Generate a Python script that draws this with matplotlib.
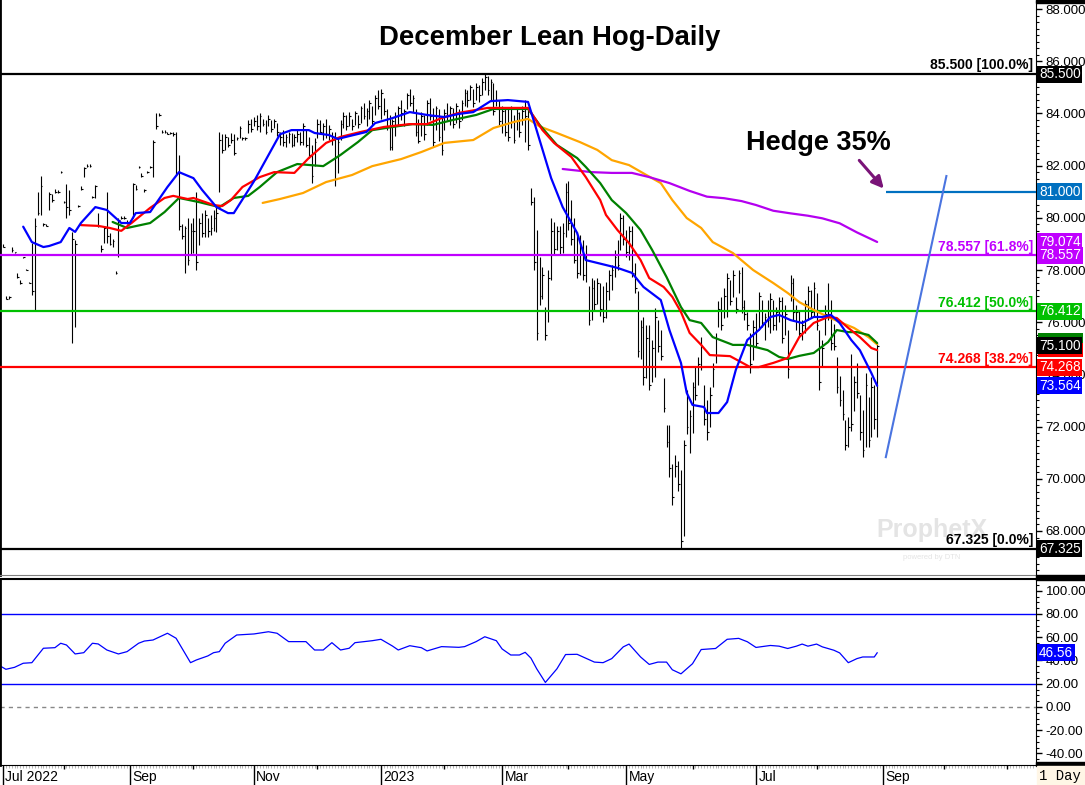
import numpy as np
import pandas as pd
import matplotlib
matplotlib.use("Agg")
import matplotlib.pyplot as plt
from matplotlib.patches import Rectangle
from matplotlib.ticker import MultipleLocator, FormatStrFormatter
from matplotlib.transforms import blended_transform_factory as blend

plt.rcParams['font.family'] = ['Liberation Sans', 'DejaVu Sans']

# ---- daily bars (Dec lean hog futures), trading days from 2022-07-01 ----
highs = [
    79.0, 77.0, 77.0, 78.9, 78.7, 77.9, 77.6, 78.5, 78.05, 77.55,
    79.05, 80.0, 81.0, 81.6, 79.8, 79.75, 81.0, 80.9, 81.1, 81.05,
    81.8, 80.65, 81.3, 81.05, 79.45, 79.15, 80.5, 81.2, 81.95, 82.05,
    82.05, 80.85, 81.25, 80.2, 78.95, 79.65, 81.0, 79.4, 79.2, 77.95,
    80.0, 80.05, 80.05, 79.9, 79.9, 81.35, 81.25, 82.0, 81.7, 81.1,
    81.8, 82.0, 83.0, 84.0, 84.0, 83.35, 83.35, 83.3, 83.3, 83.3,
    83.3, 82.4, 79.75, 79.7, 80.0, 79.8, 80.0, 81.0, 80.0, 80.2,
    80.3, 80.0, 80.1, 80.3, 80.5, 83.3, 83.2, 83.2, 83.1, 83.25,
    83.2, 83.1, 83.5, 83.1, 83.1, 83.75, 83.8, 83.85, 83.95, 84.0,
    83.8, 83.75, 83.95, 83.75, 83.8, 83.65, 83.3, 83.35, 83.2, 83.3,
    83.25, 83.2, 83.35, 83.3, 83.65, 83.4, 83.1, 82.8, 83.05, 83.8,
    83.75, 83.65, 83.8, 83.55, 83.3, 83.3, 83.1, 83.75, 84.05, 83.95,
    84.05, 83.8, 84.1, 83.95, 84.3, 84.4, 84.2, 84.5, 84.3, 84.7,
    84.9, 84.95, 84.6, 84.15, 83.95, 83.8, 84.05, 84.3, 84.5, 84.15,
    84.8, 84.95, 84.7, 84.15, 83.8, 84.05, 83.95, 84.5, 84.6, 84.2,
    84.3, 84.15, 83.85, 84.15, 84.4, 84.3, 84.2, 84.4, 84.15, 84.5,
    84.95, 84.9, 85.1, 84.95, 85.15, 85.1, 85.35, 85.5, 85.45, 85.3,
    85.15, 84.9, 84.5, 84.3, 84.2, 84.15, 84.3, 83.95, 84.2, 84.05,
    84.3, 84.5, 84.15, 81.15, 80.8, 79.55, 78.5, 78.1, 76.6, 78.0,
    80.0, 79.85, 79.7, 79.7, 79.8, 81.35, 81.4, 80.7, 80.0, 79.45,
    79.35, 79.15, 78.95, 77.4, 77.7, 77.6, 77.7, 77.5, 77.4, 77.55,
    78.0, 78.2, 78.75, 79.15, 80.2, 80.1, 79.55, 79.7, 79.7, 78.25,
    77.2, 76.1, 76.2, 75.9, 75.9, 75.3, 76.55, 76.1, 75.7, 73.85,
    72.05, 72.05, 70.55, 70.9, 70.7, 70.35, 71.5, 73.4, 72.65, 73.7,
    74.3, 74.65, 75.45, 73.6, 73.0, 73.5, 74.45, 75.6, 76.8, 76.95,
    77.3, 77.9, 77.6, 78.0, 76.95, 78.0, 78.1, 76.85, 76.4, 75.6,
    76.1, 76.35, 77.15, 76.85, 76.35, 76.85, 77.1, 76.85, 76.6, 76.95,
    76.95, 76.65, 75.7, 77.8, 77.7, 76.65, 76.45, 76.1, 76.85, 77.4,
    77.25, 77.55, 77.1, 75.7, 75.3, 76.65, 77.5, 76.85, 75.95, 74.65,
    73.95, 73.4, 72.25, 72.35, 74.8, 73.95, 74.45, 73.2, 72.65, 74.05,
    73.15, 73.9, 73.6, 75.2,
]
lows = [
    78.9, 76.9, 76.9, 78.7, 78.65, 77.7, 77.45, 78.45, 78.0, 77.5,
    77.05, 76.45, 80.1, 80.1, 79.7, 79.7, 80.3, 80.6, 80.95, 80.95,
    81.7, 80.55, 80.0, 80.1, 75.2, 75.8, 80.4, 81.05, 81.55, 81.95,
    81.95, 80.75, 80.75, 79.65, 78.7, 79.05, 79.05, 78.95, 78.9, 77.85,
    78.5, 79.95, 79.95, 79.75, 79.8, 80.0, 81.05, 81.9, 81.55, 81.0,
    81.7, 81.9, 81.55, 83.4, 83.9, 83.25, 83.25, 83.2, 83.2, 83.15,
    81.65, 79.55, 79.2, 77.9, 78.2, 78.6, 78.65, 78.0, 78.95, 79.25,
    79.25, 79.25, 79.35, 79.5, 79.45, 81.0, 82.5, 82.6, 82.7, 82.85,
    82.4, 83.0, 83.05, 83.0, 83.0, 83.25, 83.3, 83.5, 83.35, 83.3,
    83.5, 83.2, 83.5, 83.3, 83.45, 83.15, 82.8, 82.75, 82.7, 82.85,
    82.7, 82.75, 82.9, 82.8, 82.8, 82.7, 82.3, 81.35, 82.0, 83.05,
    83.2, 83.0, 83.05, 83.0, 82.8, 81.2, 81.7, 83.0, 83.45, 83.35,
    83.5, 83.35, 83.55, 83.45, 83.65, 83.8, 83.5, 83.8, 83.55, 83.95,
    84.15, 83.8, 83.95, 83.35, 82.6, 82.6, 83.15, 83.55, 83.75, 83.5,
    84.15, 84.3, 84.05, 83.15, 82.85, 83.15, 83.0, 83.55, 83.75, 82.7,
    83.35, 82.95, 82.4, 83.35, 83.75, 83.55, 83.45, 83.65, 83.45, 83.75,
    84.3, 84.25, 84.5, 84.25, 84.5, 84.45, 84.7, 84.9, 84.7, 84.5,
    83.95, 84.3, 83.55, 83.25, 83.15, 82.95, 83.45, 82.85, 83.35, 83.1,
    83.55, 82.9, 82.6, 80.5, 78.0, 75.3, 76.65, 76.9, 75.3, 76.0,
    77.6, 78.6, 78.75, 78.6, 78.65, 79.25, 79.55, 78.95, 78.25, 77.7,
    77.8, 77.6, 77.55, 75.9, 76.1, 76.45, 76.7, 76.25, 76.0, 76.15,
    76.85, 77.25, 77.75, 78.0, 78.75, 78.95, 78.5, 78.4, 77.75, 77.1,
    74.65, 74.6, 73.6, 73.85, 73.4, 73.7, 73.9, 74.85, 74.55, 72.55,
    71.2, 70.05, 69.0, 70.05, 69.55, 67.35, 67.8, 71.7, 71.0, 71.75,
    73.0, 73.6, 74.15, 72.05, 71.5, 72.0, 73.5, 74.45, 75.8, 75.7,
    76.15, 76.2, 76.65, 76.95, 76.35, 77.1, 76.35, 76.1, 75.7, 74.05,
    74.55, 75.05, 75.7, 75.8, 75.3, 75.8, 75.6, 75.7, 75.7, 76.0,
    75.2, 75.5, 73.85, 76.8, 76.1, 75.7, 75.45, 75.3, 75.6, 76.1,
    76.15, 76.2, 75.7, 73.4, 74.3, 75.5, 76.1, 74.95, 74.95, 73.3,
    72.8, 72.25, 71.1, 71.2, 71.85, 72.6, 73.1, 71.5, 70.85, 71.2,
    71.2, 71.6, 71.9, 71.6,
]
closes = [
    78.9, 76.9, 76.95, 78.75, 78.7, 77.75, 77.5, 78.5, 78.0, 77.5,
    77.2, 79.7, 80.2, 81.2, 79.75, 79.7, 80.9, 80.7, 81.0, 81.0,
    81.75, 80.6, 80.4, 80.3, 79.2, 79.0, 80.45, 81.1, 81.9, 82.0,
    82.0, 80.8, 81.2, 79.7, 78.8, 79.6, 79.3, 79.0, 79.1, 77.9,
    79.9, 80.0, 80.0, 79.8, 79.85, 81.3, 81.1, 81.95, 81.6, 81.05,
    81.75, 81.95, 82.9, 83.5, 83.95, 83.3, 83.3, 83.2, 83.25, 83.2,
    81.7, 79.7, 79.3, 79.6, 78.4, 79.5, 79.5, 78.3, 79.8, 79.4,
    80.1, 79.5, 79.6, 80.0, 80.2, 83.0, 82.6, 83.1, 82.8, 83.0,
    82.5, 83.05, 83.45, 83.05, 83.05, 83.6, 83.4, 83.7, 83.5, 83.9,
    83.6, 83.3, 83.8, 83.4, 83.7, 83.3, 83.1, 82.9, 83.1, 83.2,
    82.8, 83.1, 83.2, 82.9, 83.5, 82.8, 82.4, 81.6, 82.9, 83.6,
    83.3, 83.5, 83.2, 83.4, 83.0, 81.5, 82.9, 83.6, 83.9, 83.5,
    83.9, 83.5, 84.0, 83.6, 84.2, 83.9, 84.1, 84.4, 83.7, 84.6,
    84.3, 84.8, 84.1, 83.5, 82.7, 83.7, 83.9, 84.2, 84.0, 84.1,
    84.7, 84.4, 84.6, 83.3, 82.95, 83.9, 83.2, 84.4, 83.9, 82.9,
    84.2, 83.1, 82.6, 84.0, 83.9, 84.2, 83.6, 84.3, 83.7, 84.4,
    84.8, 84.5, 85.0, 84.4, 85.0, 84.7, 85.2, 85.4, 84.9, 85.2,
    84.1, 84.5, 83.7, 84.1, 83.3, 83.1, 84.2, 83.0, 84.0, 83.3,
    84.1, 83.9, 82.8, 80.6, 78.3, 75.6, 77.0, 77.8, 75.5, 77.7,
    79.5, 78.8, 79.5, 78.9, 79.4, 81.0, 79.8, 79.2, 78.4, 77.9,
    78.9, 77.8, 78.6, 76.1, 77.3, 76.7, 77.5, 76.5, 76.2, 77.2,
    77.8, 78.0, 78.5, 78.2, 80.0, 79.2, 78.7, 79.5, 77.9, 77.3,
    74.9, 75.8, 73.9, 75.4, 73.6, 75.0, 76.2, 75.1, 74.7, 72.7,
    71.4, 70.4, 69.3, 70.5, 69.8, 67.6, 71.3, 72.0, 72.4, 73.5,
    73.2, 74.4, 74.3, 72.3, 71.8, 73.2, 74.2, 75.4, 76.5, 75.9,
    77.0, 77.7, 76.8, 77.8, 76.5, 77.9, 76.6, 76.3, 75.9, 74.4,
    75.8, 75.2, 77.0, 76.0, 76.2, 76.1, 76.9, 75.9, 76.4, 76.8,
    75.4, 76.3, 74.2, 77.5, 76.4, 76.4, 75.6, 75.9, 76.7, 77.2,
    76.4, 77.3, 75.9, 73.7, 75.0, 76.3, 76.3, 75.2, 75.1, 73.5,
    73.0, 72.5, 71.3, 72.0, 72.1, 73.7, 73.3, 71.8, 71.1, 73.6,
    71.5, 73.5, 72.3, 75.1,
]

# ---- moving averages, read at sample trading days ----
blue_day = [7, 10, 14, 16, 20, 23, 25, 27, 32, 36, 41, 44, 46, 51, 57, 61, 66, 69,
            74, 78, 80, 87, 96, 100, 106, 108, 113, 116, 120, 126, 129, 135, 141,
            147, 153, 158, 163, 169, 175, 182, 186, 190, 194, 199, 202, 209, 213,
            218, 222, 228, 231, 235, 237, 239, 243, 244, 248, 251, 254, 258, 262,
            266, 269, 273, 277, 281, 284, 287, 290, 294, 297, 301, 303]
blue_val = [79.66, 79.07, 78.88, 78.92, 79.07, 79.61, 79.46, 79.8, 80.41, 80.3,
            79.8, 79.8, 80.18, 80.22, 81.18, 81.75, 81.52, 81.07, 80.41, 80.18,
            80.18, 81.4, 83.2, 83.36, 83.36, 83.25, 83.17, 83.02, 83.13, 83.29,
            83.63, 83.82, 84.05, 83.94, 83.86, 83.98, 84.05, 84.47, 84.51, 84.44,
            82.98, 81.52, 80.41, 79.42, 78.38, 78.19, 78.08, 77.89, 77.35, 76.85,
            75.7, 74.44, 73.29, 72.83, 72.75, 72.52, 72.52, 72.94, 74.17, 75.32,
            75.7, 76.2, 76.28, 76.08, 75.97, 76.2, 76.2, 76.28, 75.97, 75.32,
            74.93, 74.05, 73.564]
red_day = [27, 33, 37, 41, 45, 51, 56, 59, 64, 66, 73, 76, 79, 83, 89, 94, 101,
           106, 112, 117, 124, 132, 141, 147, 152, 158, 168, 177, 182, 187, 191,
           197, 202, 207, 209, 213, 217, 221, 224, 229, 232, 235, 238, 242, 245,
           252, 259, 262, 267, 272, 276, 281, 286, 289, 293, 297, 301, 303]
red_val = [79.72, 79.69, 79.61, 79.5, 79.84, 80.38, 80.76, 80.84, 80.72, 80.76,
           80.49, 80.45, 80.68, 81.18, 81.56, 81.75, 81.72, 82.29, 82.87, 83.1,
           83.29, 83.48, 83.59, 83.59, 83.82, 84.02, 84.21, 84.21, 84.21, 83.36,
           82.87, 82.33, 81.56, 80.68, 80.11, 79.53, 79.03, 78.38, 77.69, 77.35,
           76.97, 76.39, 75.59, 75.13, 74.74, 74.7, 74.28, 74.28, 74.44, 74.63,
           75.43, 75.97, 76.2, 76.16, 75.78, 75.43, 75.01, 74.93]
green_day = [38, 43, 51, 56, 61, 68, 75, 80, 85, 89, 95, 102, 111, 117, 123, 128,
             135, 142, 149, 156, 164, 170, 182, 186, 192, 199, 202, 207, 211, 216,
             221, 225, 230, 235, 238, 242, 246, 253, 258, 265, 269, 272, 276, 281,
             286, 289, 293, 296, 300, 303]
green_val = [79.84, 79.61, 79.8, 80.22, 80.76, 80.6, 80.41, 80.76, 80.84, 81.18,
             81.75, 82.06, 81.98, 82.41, 82.9, 83.36, 83.48, 83.59, 83.56, 83.75,
             83.94, 84.17, 84.17, 83.56, 82.79, 82.29, 81.95, 81.33, 80.68, 80.18,
             79.53, 78.77, 77.73, 76.58, 76.08, 75.97, 75.43, 75.13, 75.13, 74.93,
             74.67, 74.59, 74.71, 74.82, 75.24, 75.7, 75.62, 75.62, 75.51, 75.2]
orange_day = [90, 96, 104, 112, 121, 128, 138, 145, 153, 163, 170, 177, 182, 186,
              192, 200, 206, 211, 217, 223, 228, 232, 237, 242, 246, 253, 260, 267,
              272, 276, 281, 286, 290, 295, 300, 303]
orange_val = [80.57, 80.72, 80.95, 81.37, 81.64, 81.98, 82.25, 82.52, 82.87, 82.98,
              83.44, 83.67, 83.79, 83.5, 83.25, 82.9, 82.6, 82.21, 82.02, 81.64,
              81.33, 80.68, 79.99, 79.61, 79.07, 78.65, 78.0, 77.5, 77.12, 76.77,
              76.47, 76.2, 76.01, 75.78, 75.43, 75.15]
purple_day = [194, 204, 211, 218, 224, 231, 238, 244, 250, 256, 261, 267, 273, 279,
              284, 290, 296, 303]
purple_val = [81.87, 81.75, 81.72, 81.72, 81.56, 81.33, 81.03, 80.81, 80.75, 80.64,
              80.49, 80.27, 80.17, 80.08, 79.98, 79.79, 79.44, 79.074]

# ---- RSI ----
rsi_day = [-1, 1, 4, 7, 10, 14, 18, 20, 22, 25, 28, 31, 33, 36, 40, 43, 47, 49, 52,
           57, 60, 65, 67, 71, 73, 75, 77, 81, 87, 92, 95, 99, 102, 105, 108, 111,
           114, 117, 120, 122, 128, 131, 135, 137, 141, 145, 147, 152, 158, 160,
           164, 167, 171, 173, 176, 179, 181, 183, 185, 188, 192, 195, 199, 205,
           208, 211, 215, 217, 221, 224, 227, 230, 232, 235, 239, 242, 247, 251,
           255, 258, 261, 266, 269, 272, 275, 277, 279, 282, 284, 288, 290, 293,
           296, 298, 302, 303]
rsi_val = [35.3, 32.4, 34.1, 37.6, 38.1, 50.5, 51.0, 54.8, 53.3, 45.6, 46.7, 54.8,
           54.2, 49.0, 45.6, 47.6, 54.8, 56.7, 57.6, 63.4, 59.1, 38.1, 40.4, 43.9,
           46.7, 47.6, 54.8, 61.9, 62.8, 64.7, 63.4, 56.2, 56.2, 56.2, 49.0, 49.0,
           55.3, 49.0, 50.5, 55.3, 57.0, 58.2, 52.4, 49.0, 52.7, 51.0, 48.2, 51.9,
           51.3, 51.9, 56.2, 60.4, 57.0, 49.9, 44.7, 44.7, 47.0, 42.0, 32.8, 21.1,
           32.8, 45.1, 45.3, 38.6, 38.1, 41.6, 51.7, 54.1, 43.0, 36.6, 38.6, 38.6,
           32.0, 28.5, 37.2, 49.4, 50.3, 58.2, 59.0, 56.1, 51.2, 52.9, 52.3, 50.3,
           52.3, 54.1, 52.3, 54.1, 51.7, 48.8, 46.5, 38.1, 41.6, 43.0, 43.0, 46.56]

# fibonacci retracement levels (100% = high, 0% = low)
fib_levels = [85.5, 78.557, 76.412, 74.268, 67.325]
fib_pct = ["100.0%", "61.8%", "50.0%", "38.2%", "0.0%"]
fib_colors = ["black", "#C000FF", "#00C000", "#FF0000", "black"]

hedge_price = 81.0
hedge_start = 306
trend_day = [306, 327]
trend_price = [70.83, 81.6]

n = len(highs)
idx = np.arange(n)
axis_days = pd.bdate_range("2022-07-01", "2023-11-30")

fig = plt.figure(figsize=(10.85, 7.85), dpi=100)
W, H = 1085, 785
ax1 = fig.add_axes([0, 1 - 575 / H, 1036 / W, 575 / H])
ax2 = fig.add_axes([0, 20 / H, 1036 / W, 186 / H])
xl = (-3 / 2.885, 1033 / 2.885)
for ax in (ax1, ax2):
    ax.set_xlim(*xl)
    ax.yaxis.tick_right()
    ax.tick_params(axis='y', which='major', direction='out', length=4, width=1,
                   labelsize=9.5, pad=3, colors='black')
    ax.tick_params(axis='y', which='minor', direction='out', length=2, width=0.8)
    for s in ax.spines.values():
        s.set_color('black')
ax1.set_ylim(66.314, 88.345)
ax2.set_ylim(-49.9, 110.06)
ax1.spines['top'].set_visible(False)
ax1.spines['left'].set_linewidth(2)
ax2.spines['left'].set_linewidth(2)
ax1.spines['bottom'].set_color('#808080')
ax2.spines['top'].set_linewidth(1.5)

# price bars
ax1.vlines(idx, lows, highs, color='black', lw=0.8, zorder=2)
ax1.hlines(closes, idx, idx + 0.6, color='black', lw=0.8, zorder=2)

# fibonacci lines and labels
for lvl, pct, col in zip(fib_levels, fib_pct, fib_colors):
    ax1.axhline(lvl, color=col, lw=1.6, zorder=3)
    ax1.text(xl[1] - 1, lvl + 0.07, f"{lvl:.3f} [{pct}]", color=col, ha='right',
             va='bottom', fontsize=10, fontweight='bold', zorder=6)

# moving averages
for d, v, c in [(orange_day, orange_val, '#FFA500'), (purple_day, purple_val, '#B400F0'),
                (green_day, green_val, '#008000'), (red_day, red_val, '#FF0000'),
                (blue_day, blue_val, '#0000FF')]:
    ax1.plot(d, v, color=c, lw=1.6, zorder=4, solid_capstyle='round')

# hedge annotations
ax1.hlines(hedge_price, hedge_start, xl[1], color='#0070C0', lw=1.6, zorder=4)
ax1.plot(trend_day, trend_price, color='#4A74E0', lw=1.5, zorder=4)
ax1.text(282.5, 82.87, "Hedge 35%", ha='center', va='center', fontsize=19.5,
         fontweight='bold', zorder=6)
ax1.annotate("", xy=(305.3, 81.12), xytext=(296.8, 82.2),
             arrowprops=dict(arrowstyle='-|>,head_length=0.7,head_width=0.35',
                             color='#7A1478', lw=2.2, shrinkA=0, shrinkB=0), zorder=6)

# watermark
ax1.text(322, 68.05, "ProphetX", ha='center', va='center', fontsize=18,
         fontweight='bold', color='#E4E4E4', zorder=1)
ax1.text(322, 67.0, "powered by DTN", ha='center', va='center', fontsize=5.5,
         color='#E4E4E4', zorder=1)

ax1.set_yticks(np.arange(68, 89, 2))
ax1.yaxis.set_major_formatter(FormatStrFormatter('%.3f'))
ax1.yaxis.set_minor_locator(MultipleLocator(0.25))
ax1.tick_params(axis='x', which='both', bottom=False, labelbottom=False)


def tag(ax, y, text, bg):
    ax.text(1 + 3 / 1036, y, text, transform=blend(ax.transAxes, ax.transData),
            ha='left', va='center', fontsize=9.8, color='white', clip_on=False,
            zorder=7, bbox=dict(boxstyle='square,pad=0.12', fc=bg, ec='none'))


def strip(ax, y, bg):
    # value tag mostly hidden behind the last-price tag
    ax.add_patch(Rectangle((1 + 2 / 1036, y - 0.27), 45 / 1036, 0.54, fc=bg, ec='none',
                           transform=blend(ax.transAxes, ax.transData),
                           clip_on=False, zorder=6))


tag(ax1, 85.5, "85.500", 'black')
tag(ax1, hedge_price, "81.000", '#0070C0')
tag(ax1, purple_val[-1], f"{purple_val[-1]:.3f}", '#C000FF')
tag(ax1, 78.557, "78.557", '#C000FF')
tag(ax1, 76.412, "76.412", '#00C000')
strip(ax1, 75.3, '#008000')
strip(ax1, red_val[-1], '#FF0000')
tag(ax1, closes[-1], f"{closes[-1]:.3f}", 'black')
tag(ax1, 74.268, "74.268", '#FF0000')
tag(ax1, blue_val[-1], f"{blue_val[-1]:.3f}", '#0000FF')
tag(ax1, 67.325, "67.325", 'black')

fig.text(0.507, 1 - 38 / H, "December Lean Hog-Daily", ha='center', va='center',
         fontsize=19.8, fontweight='bold')

# RSI panel
ax2.axhline(80, color='#0000FF', lw=1)
ax2.axhline(20, color='#0000FF', lw=1)
ax2.axhline(0, color='#888888', lw=1, ls=(0, (3, 3)))
ax2.plot(rsi_day, rsi_val, color='#0000FF', lw=0.9)
ax2.set_yticks(np.arange(-40, 101, 20))
ax2.yaxis.set_major_formatter(FormatStrFormatter('%.2f'))
ax2.yaxis.set_minor_locator(MultipleLocator(5))
tag(ax2, rsi_val[-1], f"{rsi_val[-1]:.2f}", '#0000FF')

# date axis
firsts = [i for i in range(len(axis_days))
          if i == 0 or axis_days[i].month != axis_days[i - 1].month]
major = [i for i in firsts if axis_days[i].month % 2 == 1 and i < 330]
medium = [i for i in firsts if i not in major]
ax2.set_xticks(major)
ax2.set_xticklabels([])
ax2.set_xticks(np.arange(0, 358), minor=True)
ax2.tick_params(axis='x', which='major', direction='out', length=19, width=1,
                color='black')
ax2.tick_params(axis='x', which='minor', direction='out', length=2, width=0.5,
                color='#999999')
ax2.vlines(medium, -0.022, 0, transform=ax2.get_xaxis_transform(), colors='black',
           lw=1, clip_on=False)
for i in major:
    d = axis_days[i]
    lab = "Jul 2022" if i == 0 else ("2023" if d.month == 1 else d.strftime("%b"))
    ax2.text(i + 0.8, -0.062, lab, transform=ax2.get_xaxis_transform(), ha='left',
             va='center', fontsize=10)

# right-side frame pieces
fig.patches.append(Rectangle((1036 / W, 1 - 3 / H), 49 / W, 3 / H, color='black',
                             transform=fig.transFigure))
fig.patches.append(Rectangle((1036 / W, 1 - 580 / H), 49 / W, 5 / H, color='black',
                             transform=fig.transFigure))
fig.patches.append(Rectangle((1036 / W, 19 / H), 49 / W, 4 / H, color='black',
                             transform=fig.transFigure))
fig.patches.append(Rectangle((1037 / W, 0), 48 / W, 19 / H, color='#FFF6E6',
                             transform=fig.transFigure))
fig.text(1060 / W, 9 / H, "1 Day", ha='center', va='center', fontsize=10,
         family=['Liberation Mono', 'DejaVu Sans Mono'])

fig.savefig("out.png", dpi=100)
